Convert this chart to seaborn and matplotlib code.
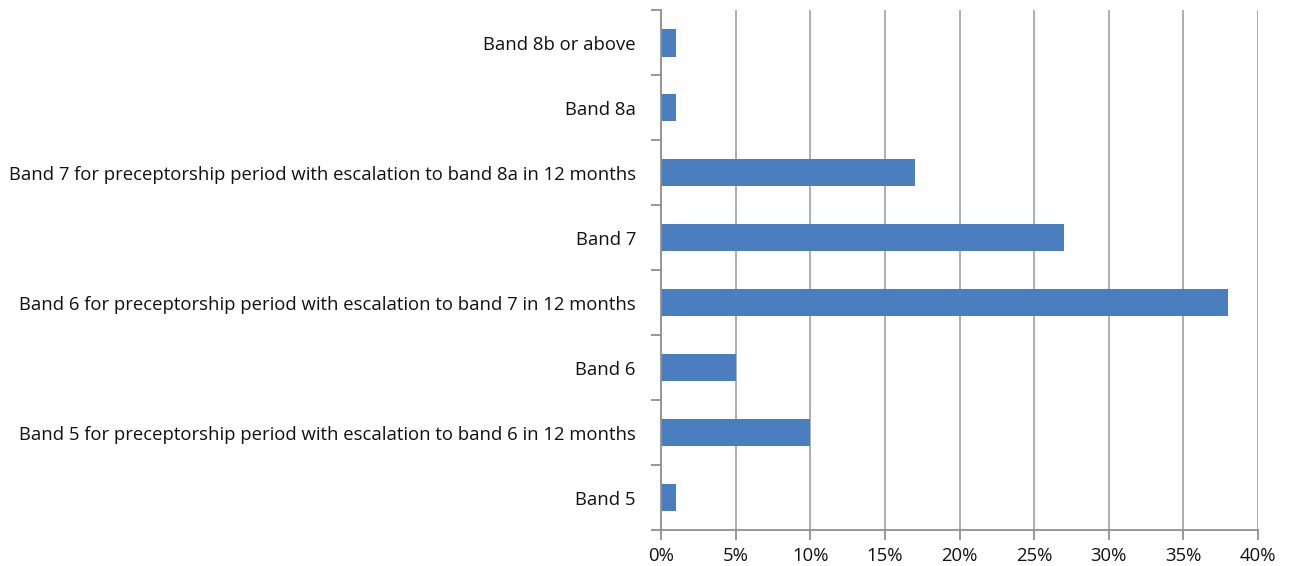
import matplotlib
matplotlib.use('Agg')
import matplotlib.pyplot as plt
import seaborn as sns
import pandas as pd
import numpy as np
from matplotlib.ticker import FixedLocator, PercentFormatter

# 데이터 (위에서 아래 순서)
bands = [
    'Band 8b or above',
    'Band 8a',
    'Band 7 for preceptorship period with escalation to band 8a in 12 months',
    'Band 7',
    'Band 6 for preceptorship period with escalation to band 7 in 12 months',
    'Band 6',
    'Band 5 for preceptorship period with escalation to band 6 in 12 months',
    'Band 5',
]
percent = [1, 1, 17, 27, 38, 5, 10, 1]
x_ticks = [0, 5, 10, 15, 20, 25, 30, 35, 40]

df = pd.DataFrame({'band': bands, 'percent': percent})

sns.set_style('white')
plt.rcParams['font.family'] = ['Open Sans', 'DejaVu Sans']

fig = plt.figure(figsize=(12.91, 5.66), dpi=100)
ax = fig.add_axes([0.512, 0.0636, 0.4625, 0.918])

sns.barplot(data=df, x='percent', y='band', order=bands, color='#4a7ebf',
            saturation=1, width=0.42, linewidth=0, ax=ax)

ax.set_xlim(0, 40)
ax.set_ylim(len(bands) - 0.5, -0.5)
ax.set_xticks(x_ticks)
ax.xaxis.set_major_formatter(PercentFormatter(decimals=0))
ax.grid(axis='x', color='#a8a8a8', linewidth=1.3)
ax.set_axisbelow(True)

# y축: 카테고리 경계에 눈금
ax.yaxis.set_minor_locator(FixedLocator(np.arange(-0.5, len(bands), 1)))
ax.tick_params(axis='y', which='major', length=0, pad=18, labelsize=13.3, labelcolor='#111111')
ax.tick_params(axis='y', which='minor', length=7, width=1.3, color='#909090', direction='out', left=True)
ax.tick_params(axis='x', which='major', length=7, width=1.3, color='#909090', direction='out',
               bottom=True, labelsize=13.3, labelcolor='#111111', pad=5)

for s in ['top', 'right']:
    ax.spines[s].set_visible(False)
for s in ['left', 'bottom']:
    ax.spines[s].set_color('#909090')
    ax.spines[s].set_linewidth(1.3)

ax.set_xlabel('')
ax.set_ylabel('')

fig.savefig('out.png', dpi=100)
